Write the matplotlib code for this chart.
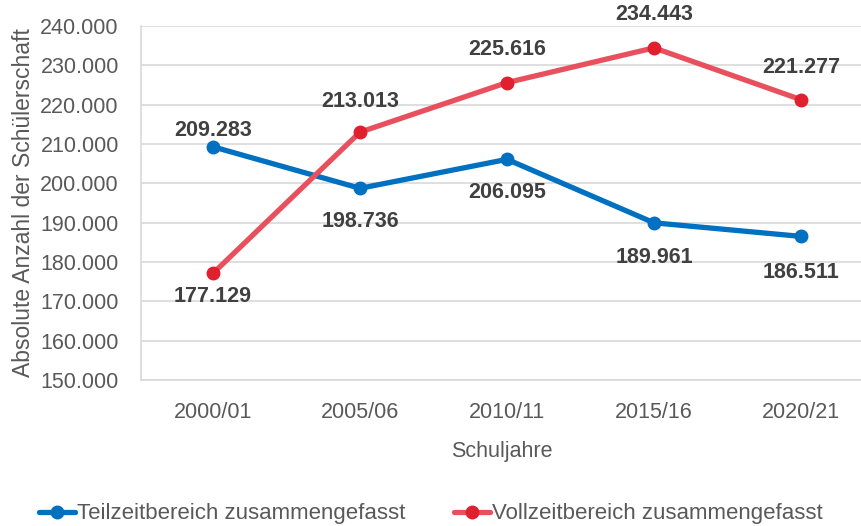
import matplotlib.pyplot as plt
from matplotlib.ticker import FuncFormatter

plt.rcParams['font.family'] = ['Liberation Sans', 'DejaVu Sans']

jahre = ['2000/01', '2005/06', '2010/11', '2015/16', '2020/21']
teilzeit = [209283, 198736, 206095, 189961, 186511]
vollzeit = [177129, 213013, 225616, 234443, 221277]
# label offset from the point, in points (+ above, - below)
teil_off = [12, -24, -24, -25, -26]
voll_off = [-17, 22, 24, 24, 23]

fig = plt.figure(figsize=(8.62, 5.26), dpi=100)
ax = fig.add_axes([141/862, 1 - 380/526, (862-141)/862, (380-26)/526])

x = range(len(jahre))
ax.plot(x, teilzeit, color='#0070C0', lw=3.8, marker='o', ms=9,
        label='Teilzeitbereich zusammengefasst', solid_capstyle='round')
ax.plot(x, vollzeit, color='#E8505E', lw=3.8, marker='o', ms=9,
        markerfacecolor='#E0202F', markeredgecolor='#E0202F',
        label='Vollzeitbereich zusammengefasst', solid_capstyle='round')

def fmt(v):
    return f'{v:,.0f}'.replace(',', '.')

for vals, offs in ((teilzeit, teil_off), (vollzeit, voll_off)):
    for i, (v, o) in enumerate(zip(vals, offs)):
        ax.annotate(fmt(v), (i, v), xytext=(0, o), textcoords='offset points',
                    ha='center', va='center', fontsize=15.5, fontweight='bold',
                    color='#404040')

ax.set_ylim(150000, 240000)
ax.set_yticks(range(150000, 240001, 10000))
ax.yaxis.set_major_formatter(FuncFormatter(lambda v, _: fmt(v)))
ax.set_xlim(-0.49, 4.415)
ax.set_xticks(list(x))
ax.set_xticklabels(jahre)
ax.grid(axis='y', color='#D9D9D9', lw=1.2)
ax.set_axisbelow(True)
for s in ('top', 'right'):
    ax.spines[s].set_visible(False)
ax.spines['left'].set_color('#D9D9D9')
ax.spines['bottom'].set_color('#D9D9D9')
ax.spines['left'].set_linewidth(1.2)
ax.spines['bottom'].set_linewidth(1.2)
ax.tick_params(length=0, labelsize=15.5, labelcolor='#595959', pad=16)
ax.set_xlabel('Schuljahre', fontsize=15.5, color='#595959', labelpad=13)
ax.set_ylabel('Absolute Anzahl der Schülerschaft', fontsize=16.5, color='#595959', labelpad=4)

fig.legend(loc='lower center', bbox_to_anchor=(0.5, -0.035), ncol=2, frameon=False,
           fontsize=16, labelcolor='#595959', handlelength=1.6, handletextpad=0.1,
           columnspacing=2.2)

fig.savefig('out.png', dpi=100)
